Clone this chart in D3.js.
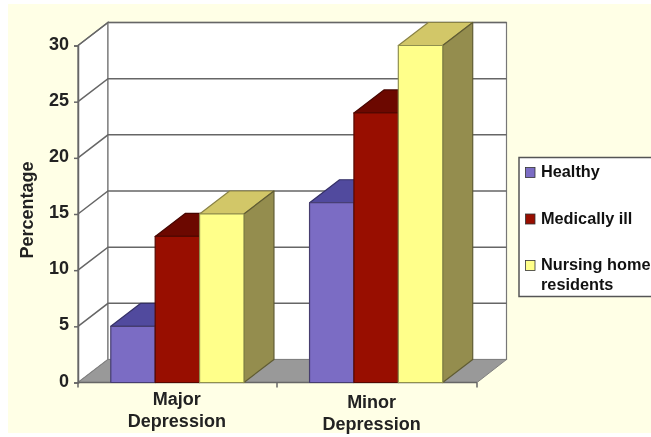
<!DOCTYPE html>
<html lang="en">
<head>
<meta charset="UTF-8">
<title>Depression prevalence</title>
<style>
    html, body { margin: 0; padding: 0; background: #fff; overflow: hidden; }
    svg { display: block; font-family: "Liberation Sans", Arial, sans-serif; font-weight: bold; filter: blur(0.5px); }
</style>
</head>
<body>
<svg id="chart" width="651" height="437"></svg>
<script src="https://d3js.org/d3.v7.min.js"></script>
<script>
const categories = [['Major', 'Depression'], ['Minor', 'Depression']];
const seriesNames = ['Healthy', 'Medically ill', 'Nursing home'];
const healthy = [5, 16];
const medicallyIll = [13, 24];
const nursingHome = [15, 30];
const yTicks = [0, 5, 10, 15, 20, 25, 30];
const legendLabels = [['Healthy'], ['Medically ill'], ['Nursing home', 'residents']];

const colors = {
    Healthy: { front: '#7b6cc4', top: '#514a9e', side: '#453f86' },
    'Medically ill': { front: '#980e00', top: '#6c0800', side: '#5c0600' },
    'Nursing home': { front: '#ffff8a', top: '#d2c768', side: '#948d4e' }
};
const values = { Healthy: healthy, 'Medically ill': medicallyIll, 'Nursing home': nursingHome };

const svg = d3.select('#chart');
const depthX = 30, depthY = -23; // 3d offset of the back wall

const x = d3.scaleBand().domain([0, 1]).range([78, 475.5]).paddingInner(0.33).paddingOuter(0.165);
const xBar = d3.scaleBand().domain(seriesNames).range([0, x.bandwidth()]);
const y = d3.scaleLinear().domain([0, 30]).range([382.5, 45.5]);
const poly = pts => pts.map(p => p.join(',')).join(' ');

// page background
svg.append('rect').attr('x', -5).attr('y', -5).attr('width', 665).attr('height', 450).attr('fill', '#fff');
svg.append('rect').attr('x', 8).attr('y', 4).attr('width', 650).attr('height', 429).attr('fill', '#ffffe6');

const x0 = 78, x1 = 477;

// walls + floor
svg.append('polygon')
    .attr('points', poly([[x0, y(0)], [x0, y(30)], [x0 + depthX, y(30) + depthY], [x0 + depthX, y(0) + depthY]]))
    .attr('fill', '#fff').attr('stroke', '#808080').attr('stroke-width', 1.4);
svg.append('rect')
    .attr('x', x0 + depthX).attr('y', y(30) + depthY)
    .attr('width', x1 - x0 - 0.5).attr('height', y(0) - y(30))
    .attr('fill', '#fff').attr('stroke', '#777').attr('stroke-width', 1.2);
svg.append('polygon')
    .attr('points', poly([[x0, y(0)], [x0 + depthX, y(0) + depthY], [x1 + depthX - 0.5, y(0) + depthY], [x1, y(0)]]))
    .attr('fill', '#999').attr('stroke', '#808080').attr('stroke-width', 1);

// grid lines, back wall and side wall
const grid = svg.append('g').attr('stroke', '#666').attr('stroke-width', 1.5).attr('fill', 'none');
grid.selectAll('path').data(yTicks.slice(1)).join('path')
    .attr('d', d => `M${x0},${y(d)}L${x0 + depthX},${y(d) + depthY}H${x1 + depthX - 0.5}`);

// y axis
const yAxis = svg.append('g').attr('transform', `translate(${x0},0)`)
    .call(d3.axisLeft(y).tickValues(yTicks).tickSize(4).tickPadding(5));
yAxis.selectAll('text').attr('font-size', 18).attr('dy', '0.2em').attr('fill', '#222').attr('font-family', '"Liberation Sans", Arial, sans-serif').attr('font-weight', 'bold');
yAxis.selectAll('line, path').attr('stroke', '#666').attr('stroke-width', 1.5);

// x axis line + ticks
const xTicks = [x0, (x0 + x1) / 2 - 0.5, x1];
svg.append('line').attr('x1', x0).attr('x2', x1).attr('y1', y(0)).attr('y2', y(0)).attr('stroke', '#666').attr('stroke-width', 1.5);
svg.append('g').selectAll('line').data(xTicks).join('line')
    .attr('x1', d => d).attr('x2', d => d).attr('y1', y(0)).attr('y2', y(0) + 5)
    .attr('stroke', '#666').attr('stroke-width', 1.5);

// bars
const bars = svg.append('g').attr('stroke-width', 1.2).attr('stroke-linejoin', 'round');
categories.forEach((cat, i) => {
    seriesNames.forEach(name => {
        const c = colors[name];
        const l = x(i) + xBar(name), r = l + xBar.bandwidth();
        const t = y(values[name][i]), b = y(0);
        const g = bars.append('g');
        g.append('polygon') // top
            .attr('points', poly([[l, t], [l + depthX, t + depthY], [r + depthX, t + depthY], [r, t]]))
            .attr('fill', c.top).attr('stroke', d3.color(c.top).darker(1.2));
        g.append('polygon') // side
            .attr('points', poly([[r, t], [r + depthX, t + depthY], [r + depthX, b + depthY], [r, b]]))
            .attr('fill', c.side).attr('stroke', d3.color(c.side).darker(1.2));
        g.append('rect') // front
            .attr('x', l).attr('y', t).attr('width', r - l).attr('height', b - t)
            .attr('fill', c.front).attr('stroke', d3.color(c.front).darker(1.6));
    });
});

// category labels, the two groups sit at slightly different heights
const labelTop = [405, 407.5], labelGap = 22, labelShift = [-0.5, -4.5];
categories.forEach((cat, i) => {
    svg.append('text')
        .attr('text-anchor', 'middle').attr('font-size', 18).attr('fill', '#222')
        .selectAll('tspan').data(cat).join('tspan')
        .attr('x', x(i) + x.bandwidth() / 2 + labelShift[i])
        .attr('y', (d, j) => labelTop[i] + j * labelGap)
        .text(d => d);
});

// y title
svg.append('text')
    .attr('transform', 'translate(33,210) rotate(-90)')
    .attr('text-anchor', 'middle').attr('font-size', 18).attr('fill', '#222')
    .text('Percentage');

// legend box runs off the right edge of the picture
const legend = svg.append('g');
legend.append('rect').attr('x', 519).attr('y', 157.5).attr('width', 140).attr('height', 139)
    .attr('fill', '#fff').attr('stroke', '#555').attr('stroke-width', 1.5);
const legendY = d3.scalePoint().domain(seriesNames).range([172, 265]);
seriesNames.forEach((name, i) => {
    const ly = legendY(name);
    legend.append('rect').attr('x', 525.5).attr('y', ly - 4.5).attr('width', 9.5).attr('height', 10)
        .attr('fill', colors[name].front).attr('stroke', '#333').attr('stroke-width', 0.8);
    legend.append('text').attr('font-size', 16.3).attr('fill', '#111')
        .selectAll('tspan').data(legendLabels[i]).join('tspan')
        .attr('x', 541).attr('y', (d, j) => ly + 5 + j * 20)
        .text(d => d);
});
</script>
</body>
</html>
